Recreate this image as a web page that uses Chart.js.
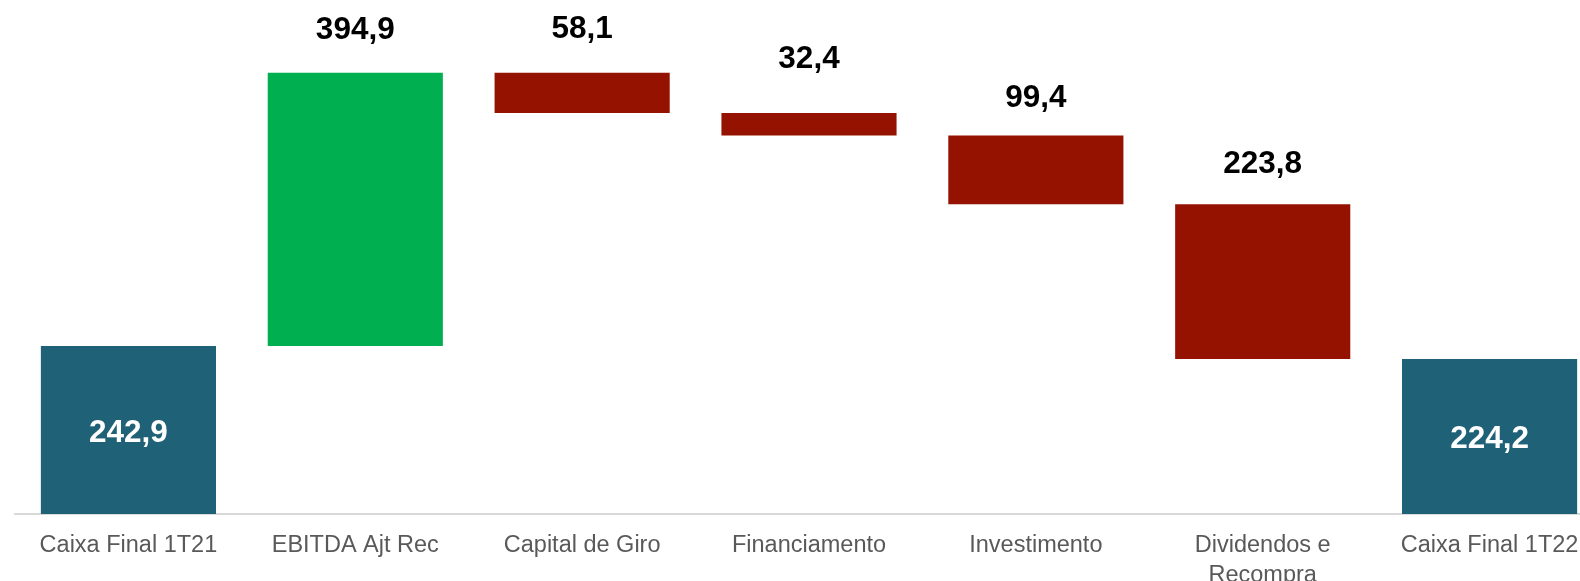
<!DOCTYPE html>
<html>
<head>
<meta charset="utf-8">
<script src="https://cdn.jsdelivr.net/npm/chart.js@4/dist/chart.umd.min.js"></script>
<style>
  html, body { margin: 0; padding: 0; background: #fff; overflow: hidden; }
  #wrap { position: relative; width: 1603px; height: 581px; }
</style>
</head>
<body>
<div id="wrap"><canvas id="myChart"></canvas></div>
<script>
// fluxo de caixa 1T21 -> 1T22 (R$ milhões)
const categorias = ['Caixa Final 1T21', 'EBITDA Ajt Rec', 'Capital de Giro', 'Financiamento', 'Investimento', ['Dividendos e', 'Recompra'], 'Caixa Final 1T22'];
const caixaInicial = 242.9;
const variacoes = [394.9, -58.1, -32.4, -99.4, -223.8]; // EBITDA .. Dividendos
const caixaFinal = 224.2;
const rotulos = ['242,9', '394,9', '58,1', '32,4', '99,4', '223,8', '224,2'];

// distancia do rotulo acima da barra (px) - so estilo
const elevacaoRotulo = [0, 42, 43, 54, 37, 40, 0];

// monta as barras flutuantes
const barras = [[0, caixaInicial]];
const cores = ['#1F6176'];
let acumulado = caixaInicial;
for (let i = 0; i < variacoes.length; i++) {
    const novo = acumulado + variacoes[i];
    barras.push([Math.min(acumulado, novo), Math.max(acumulado, novo)]);
    cores.push(variacoes[i] >= 0 ? '#00B050' : '#951200');
    acumulado = novo;
}
barras.push([0, caixaFinal]);
cores.push('#1F6176');

const pluginRotulos = {
    id: 'rotulos',
    afterDatasetsDraw(chart) {
        const ctx = chart.ctx;
        const meta = chart.getDatasetMeta(0);
        ctx.save();
        ctx.font = 'bold 31.5px "Liberation Sans", Arial, sans-serif';
        ctx.textAlign = 'center';
        ctx.textBaseline = 'middle';
        meta.data.forEach((bar, i) => {
            const p = bar.getProps(['x', 'y', 'base'], true);
            const topo = Math.min(p.y, p.base);
            const fundo = Math.max(p.y, p.base);
            if (i === 0 || i === meta.data.length - 1) {
                ctx.fillStyle = '#FFFFFF';
                ctx.fillText(rotulos[i], p.x, (topo + fundo) / 2 + 3);
            } else {
                ctx.fillStyle = '#000000';
                ctx.fillText(rotulos[i], p.x, topo - elevacaoRotulo[i]);
            }
        });
        ctx.restore();
    }
};

const ctx = document.getElementById('myChart').getContext('2d');
const myChart = new Chart(ctx, {
    type: 'bar',
    data: {
        labels: categorias,
        datasets: [{
            data: barras,
            backgroundColor: cores,
            borderWidth: 0,
            barPercentage: 0.772,
            categoryPercentage: 1.0,
        }]
    },
    options: {
        responsive: true,
        maintainAspectRatio: false,
        animation: false,
        layout: { padding: { left: 15, right: 0, top: 0, bottom: 0 } },
        scales: {
            y: {
                display: false,
                min: 0,
                max: 743,
            },
            x: {
                grid: { display: false, drawTicks: false },
                border: { display: true, color: '#D9D9D9', width: 2 },
                ticks: {
                    color: '#595959',
                    font: { family: '"Liberation Sans", Arial, sans-serif', size: 23.5, lineHeight: 1.25 },
                    padding: 17,
                    maxRotation: 0,
                    autoSkip: false,
                },
                afterFit(scale) { scale.height = 67; }
            }
        },
        plugins: {
            legend: { display: false },
            tooltip: { enabled: false },
        },
    },
    plugins: [pluginRotulos]
});
</script>
</body>
</html>
